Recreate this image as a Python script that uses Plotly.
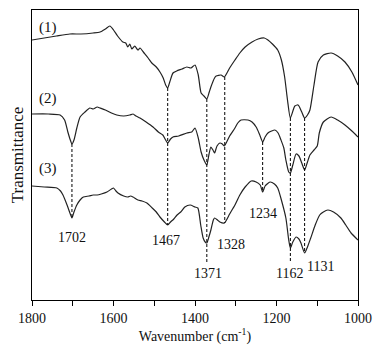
import plotly.graph_objects as go

# Wavenumber (cm-1) and relative transmittance (screen-depth units: larger = lower)
wn1 = [1800, 1770, 1740, 1707, 1680, 1650, 1633, 1620, 1609, 1600, 1590, 1577, 1570, 1565, 1560, 1555, 1548,
       1540, 1535, 1525, 1515, 1506, 1495, 1486, 1478, 1472, 1467, 1462, 1454, 1445, 1432, 1420, 1410, 1400,
       1392, 1385, 1378, 1371, 1365, 1361, 1352, 1348, 1336, 1328, 1315, 1302, 1290, 1277, 1260, 1245, 1230,
       1221, 1210, 1197, 1188, 1180, 1173, 1166, 1155, 1147, 1138, 1131, 1124, 1118, 1108, 1098, 1085, 1066,
       1050, 1032, 1015, 1000]
t1 = [40, 38, 36, 34, 34, 33, 32, 29, 26, 30, 36, 42, 43, 47, 44, 49, 46,
      50, 48, 53, 58, 63, 67, 72, 78, 85, 88, 82, 73, 71, 69, 67, 68, 65,
      75, 93, 96, 99, 92, 87, 78, 76, 75, 77, 68, 60, 53, 47, 42, 39, 38,
      40, 44, 50, 60, 77, 100, 118, 106, 105, 112, 118, 115, 110, 85, 62, 55, 53,
      56, 62, 72, 85]

wn2 = [1800, 1760, 1731, 1720, 1712, 1706, 1702, 1697, 1690, 1682, 1670, 1658, 1650, 1640, 1633, 1620, 1605,
       1592, 1575, 1560, 1552, 1545, 1535, 1520, 1503, 1490, 1479, 1472, 1467, 1460, 1454, 1440, 1420, 1408,
       1400, 1392, 1385, 1378, 1371, 1366, 1361, 1356, 1352, 1346, 1339, 1333, 1328, 1315, 1302, 1295, 1287,
       1270, 1260, 1250, 1242, 1234, 1228, 1221, 1212, 1204, 1196, 1189, 1182, 1177, 1170, 1166, 1160, 1152,
       1145, 1138, 1131, 1124, 1118, 1108, 1100, 1095, 1085, 1066, 1050, 1032, 1015, 1000]
t2 = [114, 114, 115, 120, 132, 140, 144, 140, 128, 117, 112, 108, 109, 107, 108, 110, 113,
      115, 116, 115, 114, 116, 118, 122, 127, 132, 135, 140, 143, 139, 137, 136, 133, 132,
      128, 138, 152, 160, 165, 155, 147, 150, 153, 146, 143, 144, 146, 136, 128, 123, 120,
      120, 122, 127, 134, 142, 137, 133, 131, 130, 133, 140, 148, 160, 172, 173, 165, 154,
      156, 163, 170, 162, 155, 150, 146, 133, 122, 117, 120, 125, 131, 137]

wn3 = [1800, 1770, 1739, 1730, 1724, 1714, 1706, 1702, 1697, 1690, 1682, 1674, 1660, 1650, 1640, 1630, 1616,
       1605, 1600, 1594, 1589, 1575, 1565, 1558, 1552, 1540, 1530, 1518, 1505, 1495, 1486, 1475, 1467, 1460,
       1452, 1444, 1435, 1425, 1412, 1400, 1393, 1386, 1380, 1375, 1371, 1366, 1361, 1355, 1352, 1345, 1339,
       1328, 1315, 1302, 1290, 1277, 1262, 1250, 1240, 1234, 1228, 1216, 1205, 1197, 1188, 1177, 1170, 1166,
       1160, 1152, 1145, 1140, 1131, 1124, 1116, 1105, 1094, 1085, 1074, 1060, 1042, 1030, 1017, 1000]
t3 = [186, 187, 188, 191, 195, 205, 214, 218, 212, 205, 200, 197, 196, 195, 195, 194, 192,
      189, 188, 191, 193, 196, 197, 196, 197, 200, 201, 203, 208, 212, 217, 222, 225, 222,
      219, 215, 212, 207, 205, 207, 208, 225, 238, 242, 243, 237, 230, 220, 218, 220, 222,
      223, 214, 205, 195, 187, 181, 182, 185, 192, 186, 182, 184, 188, 200, 218, 240, 248,
      242, 237, 239, 243, 253, 247, 238, 225, 215, 212, 210, 212, 218, 225, 233, 240]

series_names = ["(1)", "(2)", "(3)"]
series_label_y = [27, 98, 168]

peak_labels = ["1702", "1467", "1371", "1328", "1234", "1162", "1131"]
peak_line_wn = [1702, 1467, 1371, 1327, 1234, 1166, 1131]
peak_line_top = [144, 88, 99, 77, 142, 118, 118]
peak_line_bottom = [218, 225, 262, 223, 192, 263, 253]
peak_label_wn = [1702, 1472, 1368, 1312, 1233, 1169, 1093]
peak_label_y = [237, 240, 273, 244, 213, 273, 266]

tick_vals = [1800, 1600, 1400, 1200, 1000]
tick_text = ["1800", "1600", "1400", "1200", "1000"]
minor_tick_vals = [1700, 1500, 1300, 1100]

FONT = "Liberation Serif, Times New Roman, serif"
INK = "#111111"

fig = go.Figure()
for wn, t in [(wn1, t1), (wn2, t2), (wn3, t3)]:
    fig.add_trace(go.Scatter(x=wn, y=t, mode="lines", showlegend=False,
                             line=dict(color="#222222", width=1.2, shape="spline", smoothing=0.6),
                             hoverinfo="skip"))

for x, y0, y1 in zip(peak_line_wn, peak_line_top, peak_line_bottom):
    fig.add_shape(type="line", x0=x, x1=x, y0=y0, y1=y1, xref="x", yref="y",
                  line=dict(color="black", width=1, dash="3px,2px"))

for txt, x, y in zip(peak_labels, peak_label_wn, peak_label_y):
    fig.add_annotation(x=x, y=y, text=txt, showarrow=False, xref="x", yref="y",
                       font=dict(family=FONT, size=14, color=INK))

for txt, y in zip(series_names, series_label_y):
    fig.add_annotation(x=1761, y=y, text=txt, showarrow=False, xref="x", yref="y",
                       font=dict(family=FONT, size=15, color=INK))

fig.update_layout(
    width=377, height=351,
    margin=dict(l=32, r=19, t=10, b=51, autoexpand=False),
    paper_bgcolor="white", plot_bgcolor="white",
    font=dict(family=FONT, size=14, color=INK),
    xaxis=dict(range=[1800, 1000], tickvals=tick_vals, ticktext=tick_text,
               ticks="outside", ticklen=5, tickwidth=1, tickcolor="black",
               minor=dict(ticks="outside", ticklen=5, tickwidth=1, tickcolor="black",
                          tickvals=minor_tick_vals),
               showline=True, linecolor="black", linewidth=1.2, mirror=True,
               showgrid=False, zeroline=False, automargin=False,
               tickfont=dict(family=FONT, size=14, color=INK),
               title=dict(text="Wavenumber (cm<sup>-1</sup>)", standoff=4,
                          font=dict(family=FONT, size=14, color=INK))),
    yaxis=dict(range=[300, 10], showticklabels=False, ticks="",
               showline=True, linecolor="black", linewidth=1.2, mirror=True,
               showgrid=False, zeroline=False, automargin=False,
               title=dict(text="Transmittance", standoff=2,
                          font=dict(family=FONT, size=17, color=INK))),
)

fig.write_html("out.html", config={"displayModeBar": False},
               post_script="document.body.style.margin='0';")
